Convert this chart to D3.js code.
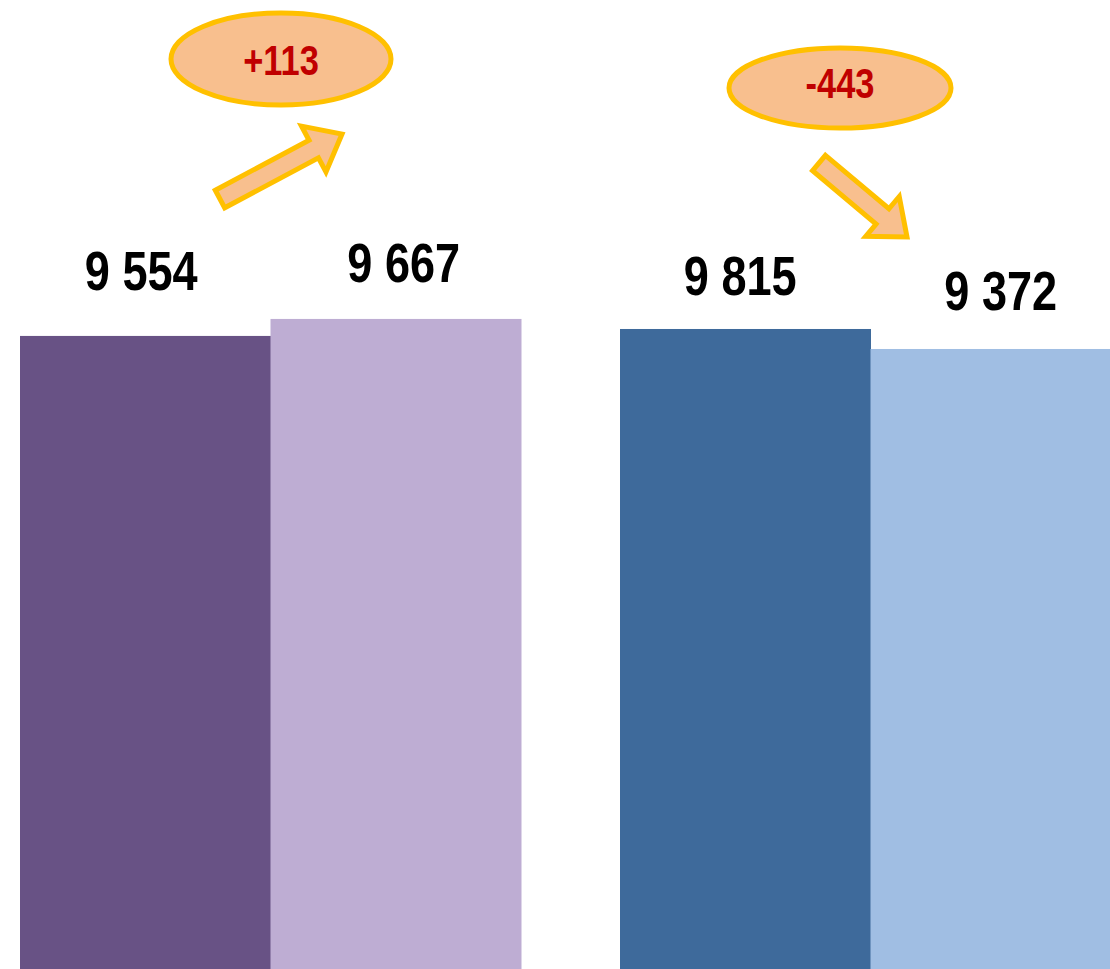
<!DOCTYPE html>
<html>
<head>
<meta charset="utf-8">
<script src="https://cdn.jsdelivr.net/npm/d3@7"></script>
<style>
  html, body { margin: 0; padding: 0; background: #ffffff; }
  svg { display: block; }
  .lbl { font-family: "Liberation Sans", Arial, sans-serif; font-weight: bold; }
</style>
</head>
<body>
<svg id="chart" width="1110" height="969"></svg>
<script>
// ---- data ----
const groups = ["A", "B"];
const series = ["before", "after"];
const groupValues = [
  [9554, 9667],
  [9815, 9372]
];
const valueLabels = [
  ["9 554", "9 667"],
  ["9 815", "9 372"]
];
const changeLabels = ["+113", "-443"];
// visible value range of each group's own value axis (bottom, top of the frame)
const groupDomains = [
  [5346, 11787],
  [-4361, 17102]
];
const barColors = [
  ["#685285", "#BEADD3"],
  ["#3E6A9B", "#A0BEE3"]
];

// ---- layout constants ----
const W = 1110, H = 969;
const NARROW = 0.82;
const labelLift = [[46, 37], [34, 39]];
const labelShift = [[-4, 8], [-5, 5]];
const ellipses = [
  { cx: 281, cy: 59, rx: 110, ry: 46, ty: 16 },
  { cx: 840, cy: 88, rx: 111, ry: 40, ty: 10 }
];
const arrows = [
  { x1: 220, y1: 199, x2: 342, y2: 134 },
  { x1: 819, y1: 163, x2: 907, y2: 237 }
];

const svg = d3.select("#chart");

const x0 = d3.scaleBand().domain(groups).range([20, 1121]).paddingInner(0.165).paddingOuter(0);
const x1 = d3.scaleBand().domain(series).range([0, x0.bandwidth()]).padding(0);
const yScales = groupDomains.map(d => d3.scaleLinear().domain(d).range([H, 0]));

groups.forEach((g, gi) => {
  const gEl = svg.append("g").attr("transform", `translate(${x0(g)},0)`);
  const y = yScales[gi];
  const rows = series.map((s, si) => ({ s, si, v: groupValues[gi][si], lab: valueLabels[gi][si] }));
  gEl.selectAll("rect").data(rows).join("rect")
    .attr("x", d => x1(d.s))
    .attr("width", x1.bandwidth() + 0.5)
    .attr("y", d => y(d.v))
    .attr("height", d => H - y(d.v))
    .attr("fill", d => barColors[gi][d.si]);
  gEl.selectAll("text").data(rows).join("text")
    .attr("class", "lbl")
    .attr("transform", d => `translate(${x1(d.s) + x1.bandwidth() / 2 + labelShift[gi][d.si]},${y(d.v) - labelLift[gi][d.si]}) scale(${NARROW},1)`)
    .attr("text-anchor", "middle")
    .attr("font-size", 55)
    .attr("fill", "#000")
    .text(d => d.lab);
});

function blockArrow(a, shaftW, headW, headL) {
  const dx = a.x2 - a.x1, dy = a.y2 - a.y1;
  const L = Math.hypot(dx, dy);
  const ux = dx / L, uy = dy / L, nx = -uy, ny = ux;
  const p = (t, n) => [a.x1 + ux * t + nx * n, a.y1 + uy * t + ny * n];
  const pts = [p(0, -shaftW / 2), p(L - headL, -shaftW / 2), p(L - headL, -headW / 2), p(L, 0),
               p(L - headL, headW / 2), p(L - headL, shaftW / 2), p(0, shaftW / 2)];
  return d3.line()(pts) + "Z";
}

changeLabels.forEach((c, i) => {
  const e = ellipses[i];
  svg.append("path")
    .attr("d", blockArrow(arrows[i], 20, 52, 32))
    .attr("fill", "#F8BF8E")
    .attr("stroke", "#FFC000")
    .attr("stroke-width", 5)
    .attr("stroke-linejoin", "miter");
  svg.append("ellipse")
    .attr("cx", e.cx).attr("cy", e.cy).attr("rx", e.rx).attr("ry", e.ry)
    .attr("fill", "#F8BF8E")
    .attr("stroke", "#FFC000")
    .attr("stroke-width", 5);
  svg.append("text")
    .attr("class", "lbl")
    .attr("transform", `translate(${e.cx},${e.cy + e.ty}) scale(${NARROW},1)`)
    .attr("text-anchor", "middle")
    .attr("font-size", 42)
    .attr("fill", "#C00000")
    .text(c);
});
</script>
</body>
</html>
